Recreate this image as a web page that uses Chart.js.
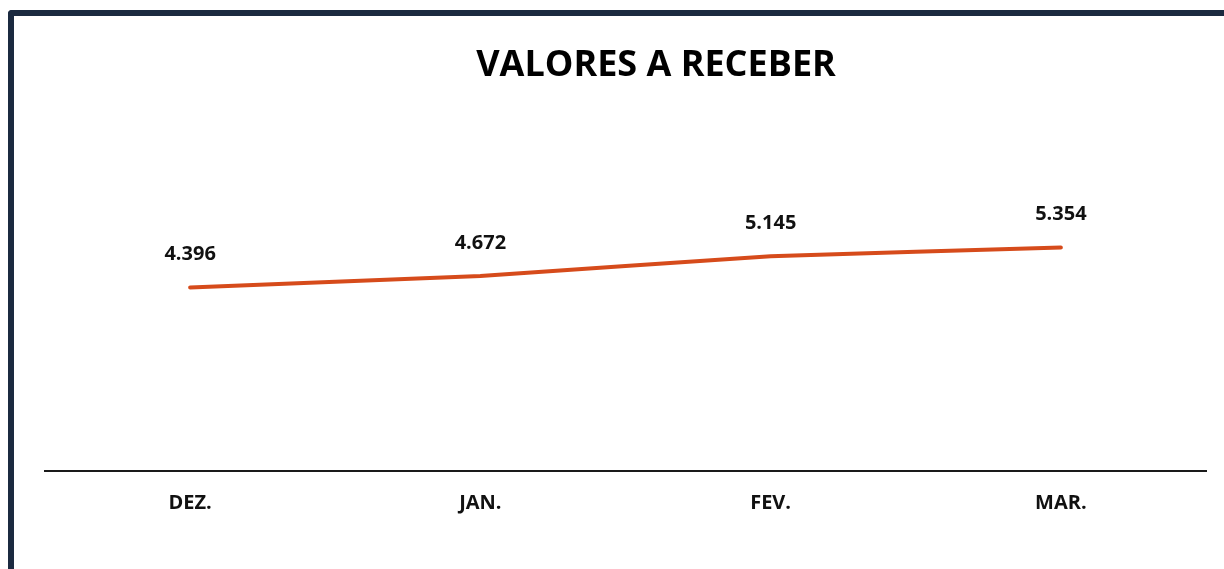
<!DOCTYPE html>
<html>
<head>
<meta charset="utf-8">
<script src="https://cdn.jsdelivr.net/npm/chart.js@4/dist/chart.umd.min.js"></script>
<style>
  html, body { margin: 0; padding: 0; background: #fff; overflow: hidden; }
  .frame {
    position: absolute; left: 8px; top: 10px;
    width: 1240px; height: 600px;
    border-top: 6px solid #1b2a40; border-left: 6px solid #1b2a40;
    border-top-left-radius: 4px;
  }
  .wrap { position: absolute; left: 14px; top: 16px; width: 1210px; height: 553px; }
  .title {
    position: absolute; left: 356px; top: 38px; width: 600px;
    text-align: center; line-height: 43px;
    font: bold 36px "Open Sans", sans-serif; color: #000;
  }
</style>
</head>
<body>
<div class="frame"></div>
<div class="wrap"><canvas id="c"></canvas></div>
<div class="title">VALORES A RECEBER</div>
<script>
  // values
  const months = ['DEZ.', 'JAN.', 'FEV.', 'MAR.'];
  const receivables = [4.396, 4.672, 5.145, 5.354];
  const yRange = [0, 8];

  const FONT = '"Open Sans", sans-serif';
  const LINE = '#d64b1b';

  function fmtValue(v) {
    return v.toFixed(3);
  }

  // small inline label plugin: value drawn above each point
  const valueLabels = {
    id: 'valueLabels',
    afterDatasetsDraw(chart) {
      const ctx = chart.ctx;
      const meta = chart.getDatasetMeta(0);
      ctx.save();
      ctx.font = 'bold 20px ' + FONT;
      ctx.fillStyle = '#111';
      ctx.textAlign = 'center';
      ctx.textBaseline = 'middle';
      meta.data.forEach((pt, i) => {
        ctx.fillText(fmtValue(receivables[i]), pt.x, pt.y - 33);
      });
      ctx.restore();
    },
  };

  new Chart(document.getElementById('c').getContext('2d'), {
    type: 'line',
    data: {
      labels: months,
      datasets: [
        {
          label: 'Valores a receber',
          data: receivables,
          borderColor: LINE,
          backgroundColor: LINE,
          borderWidth: 4,
          borderCapStyle: 'round',
          pointRadius: 0,
          tension: 0.1,
          fill: false,
        },
      ],
    },
    options: {
      responsive: true,
      maintainAspectRatio: false,
      animation: false,
      layout: { padding: { left: 31, right: 18, top: 121, bottom: 34 } },
      plugins: {
        legend: { display: false },
        tooltip: { enabled: false },
        title: { display: false },
      },
      scales: {
        x: {
          offset: true,
          grid: { display: false, drawTicks: false, offset: true },
          border: { display: true, color: '#1a1a1a', width: 2 },
          ticks: { color: '#111', padding: 20, font: { family: FONT, size: 20, weight: 'bold' } },
        },
        y: {
          display: false,
          min: yRange[0],
          max: yRange[1],
        },
      },
    },
    plugins: [valueLabels],
  });
</script>
</body>
</html>
